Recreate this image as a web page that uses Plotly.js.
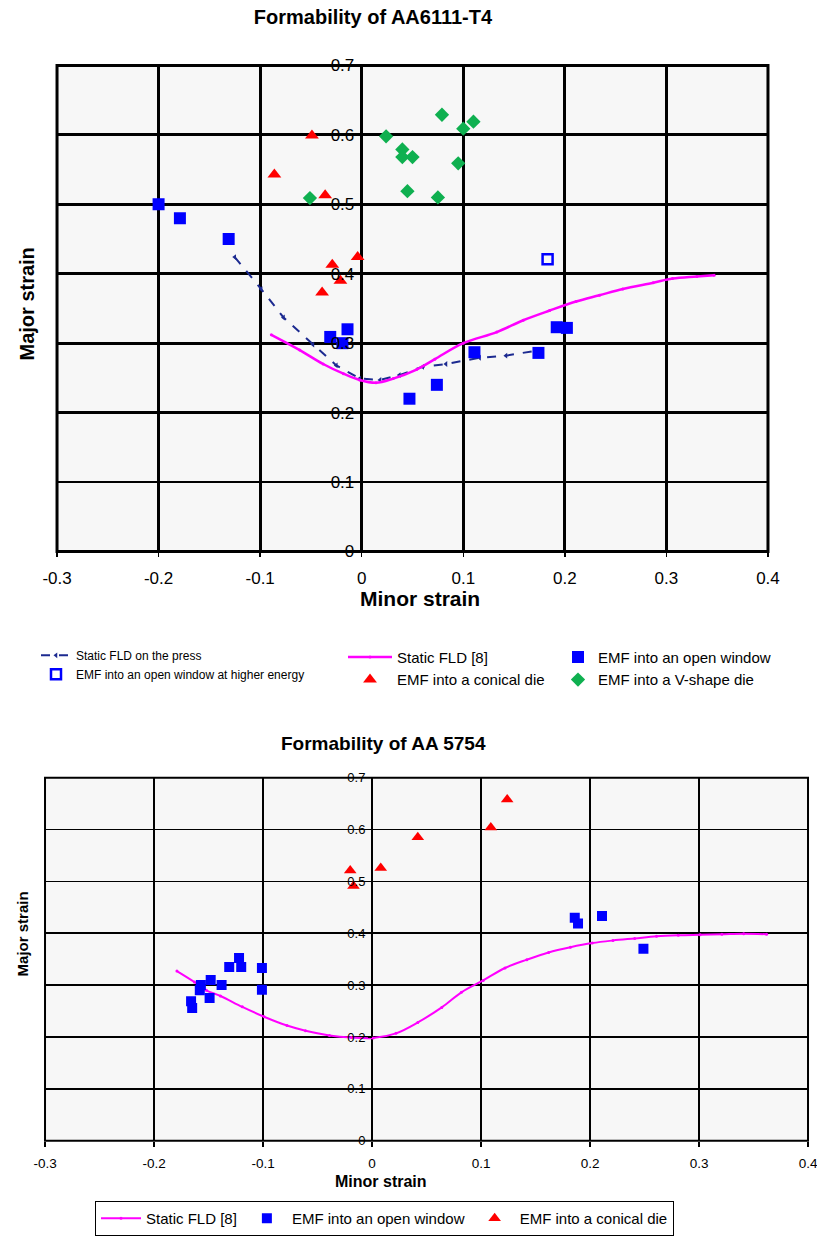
<!DOCTYPE html>
<html>
<head>
<meta charset="utf-8">
<script src="https://cdn.plot.ly/plotly-3.0.1.min.js"></script>
<style>html,body{margin:0;padding:0;background:#fff;}#chart{width:817px;height:1236px;}</style>
</head>
<body>
<div id="chart"></div>
<script>
// ---------- Tick labels ----------
const xTickVals = [-0.3, -0.2, -0.1, 0, 0.1, 0.2, 0.3, 0.4];
const xTickLabels = ['-0.3', '-0.2', '-0.1', '0', '0.1', '0.2', '0.3', '0.4'];
const yTickVals = [0, 0.1, 0.2, 0.3, 0.4, 0.5, 0.6, 0.7];
const yTickLabels = ['0', '0.1', '0.2', '0.3', '0.4', '0.5', '0.6', '0.7'];

// ---------- Top chart: AA6111-T4 ----------
const pressFldX = [-0.125, -0.099, -0.077, -0.048, -0.025, -0.002, 0.018, 0.037, 0.06, 0.083, 0.116, 0.142, 0.175];
const pressFldY = [0.424, 0.378, 0.337, 0.298, 0.268, 0.249, 0.247, 0.254, 0.266, 0.27, 0.279, 0.282, 0.29];

const staticFldTopX = [-0.089, -0.061, -0.038, -0.018, -0.002, 0.014, 0.031, 0.054, 0.072, 0.1, 0.133, 0.159, 0.185, 0.211, 0.234, 0.257, 0.287, 0.306, 0.33, 0.347];
const staticFldTopY = [0.312, 0.29, 0.27, 0.256, 0.247, 0.243, 0.249, 0.262, 0.277, 0.3, 0.316, 0.333, 0.347, 0.36, 0.369, 0.378, 0.387, 0.393, 0.396, 0.398];

const openWinTopX = [-0.2, -0.179, -0.131, -0.031, -0.014, -0.019, 0.047, 0.074, 0.111, 0.174, 0.192, 0.202];
const openWinTopY = [0.5, 0.48, 0.45, 0.309, 0.32, 0.3, 0.22, 0.24, 0.287, 0.286, 0.323, 0.322];

const highEnergyX = [0.183];
const highEnergyY = [0.421];

const conicalTopX = [-0.049, -0.086, -0.036, -0.004, -0.029, -0.021, -0.039];
const conicalTopY = [0.599, 0.543, 0.513, 0.424, 0.413, 0.39, 0.373];

const vShapeX = [-0.051, 0.024, 0.04, 0.04, 0.05, 0.045, 0.079, 0.11, 0.1, 0.095, 0.075];
const vShapeY = [0.509, 0.598, 0.579, 0.568, 0.568, 0.519, 0.629, 0.619, 0.609, 0.559, 0.51];

// ---------- Bottom chart: AA 5754 ----------
const staticFldBotX = [-0.179, -0.163, -0.152, -0.139, -0.119, -0.099, -0.078, -0.061, -0.039, -0.019, 0.001, 0.022, 0.042, 0.064, 0.082, 0.102, 0.122, 0.142, 0.162, 0.182, 0.202, 0.221, 0.241, 0.261, 0.281, 0.301, 0.321, 0.341, 0.362];
const staticFldBotY = [0.327, 0.306, 0.29, 0.279, 0.258, 0.239, 0.222, 0.212, 0.203, 0.199, 0.198, 0.207, 0.228, 0.257, 0.286, 0.309, 0.333, 0.349, 0.363, 0.373, 0.381, 0.386, 0.39, 0.394, 0.396, 0.397, 0.398, 0.399, 0.398];

const openWinBotX = [-0.166, -0.165, -0.158, -0.157, -0.149, -0.148, -0.138, -0.131, -0.122, -0.12, -0.101, -0.101, 0.186, 0.189, 0.211, 0.249];
const openWinBotY = [0.269, 0.256, 0.29, 0.3, 0.275, 0.31, 0.3, 0.335, 0.352, 0.335, 0.333, 0.291, 0.43, 0.419, 0.433, 0.37];

const conicalBotX = [-0.02, -0.017, 0.008, 0.042, 0.109, 0.124];
const conicalBotY = [0.521, 0.491, 0.526, 0.585, 0.604, 0.658];

const FONT = '"Liberation Sans", Arial, Helvetica, sans-serif';

const traces = [
  {x: pressFldX, y: pressFldY, type: 'scatter', mode: 'lines+markers', name: 'Static FLD on the press',
   line: {color: '#1c2a90', width: 2, dash: 'dash'}, marker: {symbol: 'triangle-left', size: 5, color: '#1c2a90'},
   xaxis: 'x', yaxis: 'y', legend: 'legend'},
  {x: highEnergyX, y: highEnergyY, type: 'scatter', mode: 'markers', name: 'EMF into an open window at higher energy',
   marker: {symbol: 'square-open', size: 10, color: '#0000ff', line: {width: 2.5, color: '#0000ff'}},
   xaxis: 'x', yaxis: 'y', legend: 'legend'},
  {x: staticFldTopX, y: staticFldTopY, type: 'scatter', mode: 'lines+markers', name: 'Static FLD [8]',
   line: {color: '#ff00ff', width: 2.5, shape: 'spline'}, marker: {symbol: 'circle', size: 3, color: '#ff00ff'},
   xaxis: 'x', yaxis: 'y', legend: 'legend2'},
  {x: conicalTopX, y: conicalTopY, type: 'scatter', mode: 'markers', name: 'EMF into a conical die',
   marker: {symbol: 'triangle-up', size: 12, color: '#ff0000'},
   xaxis: 'x', yaxis: 'y', legend: 'legend2'},
  {x: openWinTopX, y: openWinTopY, type: 'scatter', mode: 'markers', name: 'EMF into an open window',
   marker: {symbol: 'square', size: 12, color: '#0000ff'},
   xaxis: 'x', yaxis: 'y', legend: 'legend3'},
  {x: vShapeX, y: vShapeY, type: 'scatter', mode: 'markers', name: 'EMF into a V-shape die',
   marker: {symbol: 'diamond', size: 11, color: '#0fb050'},
   xaxis: 'x', yaxis: 'y', legend: 'legend3'},
  {x: staticFldBotX, y: staticFldBotY, type: 'scatter', mode: 'lines+markers', name: 'Static FLD [8]',
   line: {color: '#ff00ff', width: 2, shape: 'spline'}, marker: {symbol: 'circle', size: 3, color: '#ff00ff'},
   xaxis: 'x2', yaxis: 'y2', legend: 'legend4'},
  {x: openWinBotX, y: openWinBotY, type: 'scatter', mode: 'markers', name: 'EMF into an open window',
   marker: {symbol: 'square', size: 10, color: '#0000ff'},
   xaxis: 'x2', yaxis: 'y2', legend: 'legend4'},
  {x: conicalBotX, y: conicalBotY, type: 'scatter', mode: 'markers', name: 'EMF into a conical die',
   marker: {symbol: 'triangle-up', size: 11, color: '#ff0000'},
   xaxis: 'x2', yaxis: 'y2', legend: 'legend4'}
];

function xAxis(domain, anchor, gw, fs, standoff) {
  return {domain: domain, anchor: anchor, range: [-0.3, 0.4], tickvals: xTickVals, ticktext: xTickLabels,
    showgrid: true, gridcolor: '#000', gridwidth: gw, zeroline: false, showline: false,
    ticks: 'outside', ticklen: 5, tickwidth: 1.5, tickcolor: '#000', ticklabelstandoff: standoff,
    ticklabeloverflow: 'allow',
    tickfont: {family: FONT, size: fs, color: '#000'}, fixedrange: true};
}
function yAxis(domain, pos, gw, fs) {
  return {domain: domain, anchor: 'free', position: pos, range: [0, 0.7], tickvals: yTickVals, ticktext: yTickLabels,
    showgrid: true, gridcolor: '#000', gridwidth: gw, zeroline: false, showline: false,
    ticks: 'outside', ticklen: 4, tickwidth: 1.5, tickcolor: '#000',
    tickfont: {family: FONT, size: fs, color: '#000'}, fixedrange: true};
}

const layout = {
  width: 817, height: 1236,
  margin: {l: 0, r: 0, t: 0, b: 0},
  paper_bgcolor: '#ffffff',
  plot_bgcolor: '#f7f7f7',
  font: {family: FONT, color: '#000'},
  title: {text: '<b>Formability of AA6111-T4</b>', x: 0.4565, y: 0.9862, xanchor: 'center', yanchor: 'middle',
          xref: 'paper', yref: 'paper', font: {family: FONT, size: 20, color: '#000'}},
  xaxis: xAxis([0.0698, 0.9400], 'y', 2.8, 17, 6),
  yaxis: yAxis([0.5502, 0.9466], 0.4427, 2.8, 17),
  xaxis2: xAxis([0.0551, 0.9890], 'y2', 1.6, 13.5, 5),
  yaxis2: yAxis([0.0696, 0.3657], 0.4553, 1.6, 13),
  shapes: [
    {type: 'rect', xref: 'x domain', yref: 'y domain', x0: 0, x1: 1, y0: 0, y1: 1, line: {color: '#000', width: 3}, layer: 'above'},
    {type: 'rect', xref: 'x2 domain', yref: 'y2 domain', x0: 0, x1: 1, y0: 0, y1: 1, line: {color: '#000', width: 2}, layer: 'above'}
  ],
  annotations: [
    {text: '<b>Major strain</b>', xref: 'paper', yref: 'paper', x: 0.033, y: 0.7524, textangle: -90, showarrow: false,
     xanchor: 'center', yanchor: 'middle', font: {family: FONT, size: 20, color: '#000'}},
    {text: '<b>Minor strain</b>', xref: 'paper', yref: 'paper', x: 0.514, y: 0.5121, showarrow: false,
     xanchor: 'center', yanchor: 'middle', font: {family: FONT, size: 21, color: '#000'}},
    {text: '<b>Formability of AA 5754</b>', xref: 'paper', yref: 'paper', x: 0.469, y: 0.3932, showarrow: false,
     xanchor: 'center', yanchor: 'middle', font: {family: FONT, size: 19, color: '#000'}},
    {text: '<b>Minor strain</b>', xref: 'paper', yref: 'paper', x: 0.466, y: 0.0364, showarrow: false,
     xanchor: 'center', yanchor: 'middle', font: {family: FONT, size: 16, color: '#000'}},
    {text: '<b>Major strain</b>', xref: 'paper', yref: 'paper', x: 0.027, y: 0.2379, textangle: -90, showarrow: false,
     xanchor: 'center', yanchor: 'middle', font: {family: FONT, size: 15, color: '#000'}}
  ],
  showlegend: true,
  legend: {x: 36/817, y: 0.4773, xanchor: 'left', yanchor: 'top', orientation: 'v', bgcolor: 'rgba(0,0,0,0)',
           font: {family: FONT, size: 12, color: '#000'}, traceorder: 'normal'},
  legend2: {x: 343/817, y: 0.4773, xanchor: 'left', yanchor: 'top', orientation: 'v', bgcolor: 'rgba(0,0,0,0)',
            itemwidth: 44, font: {family: FONT, size: 15, color: '#000'}, traceorder: 'normal'},
  legend3: {x: 558/817, y: 0.4773, xanchor: 'left', yanchor: 'top', orientation: 'v', bgcolor: 'rgba(0,0,0,0)',
            font: {family: FONT, size: 15, color: '#000'}, traceorder: 'normal'},
  legend4: {x: 95/817, y: 0.0202, xanchor: 'left', yanchor: 'top', orientation: 'h', bgcolor: '#ffffff',
            itemwidth: 40, bordercolor: '#000', borderwidth: 1, font: {family: FONT, size: 15, color: '#000'}, traceorder: 'normal'}
};

Plotly.newPlot('chart', traces, layout, {displayModeBar: false, staticPlot: true});
</script>
</body>
</html>
